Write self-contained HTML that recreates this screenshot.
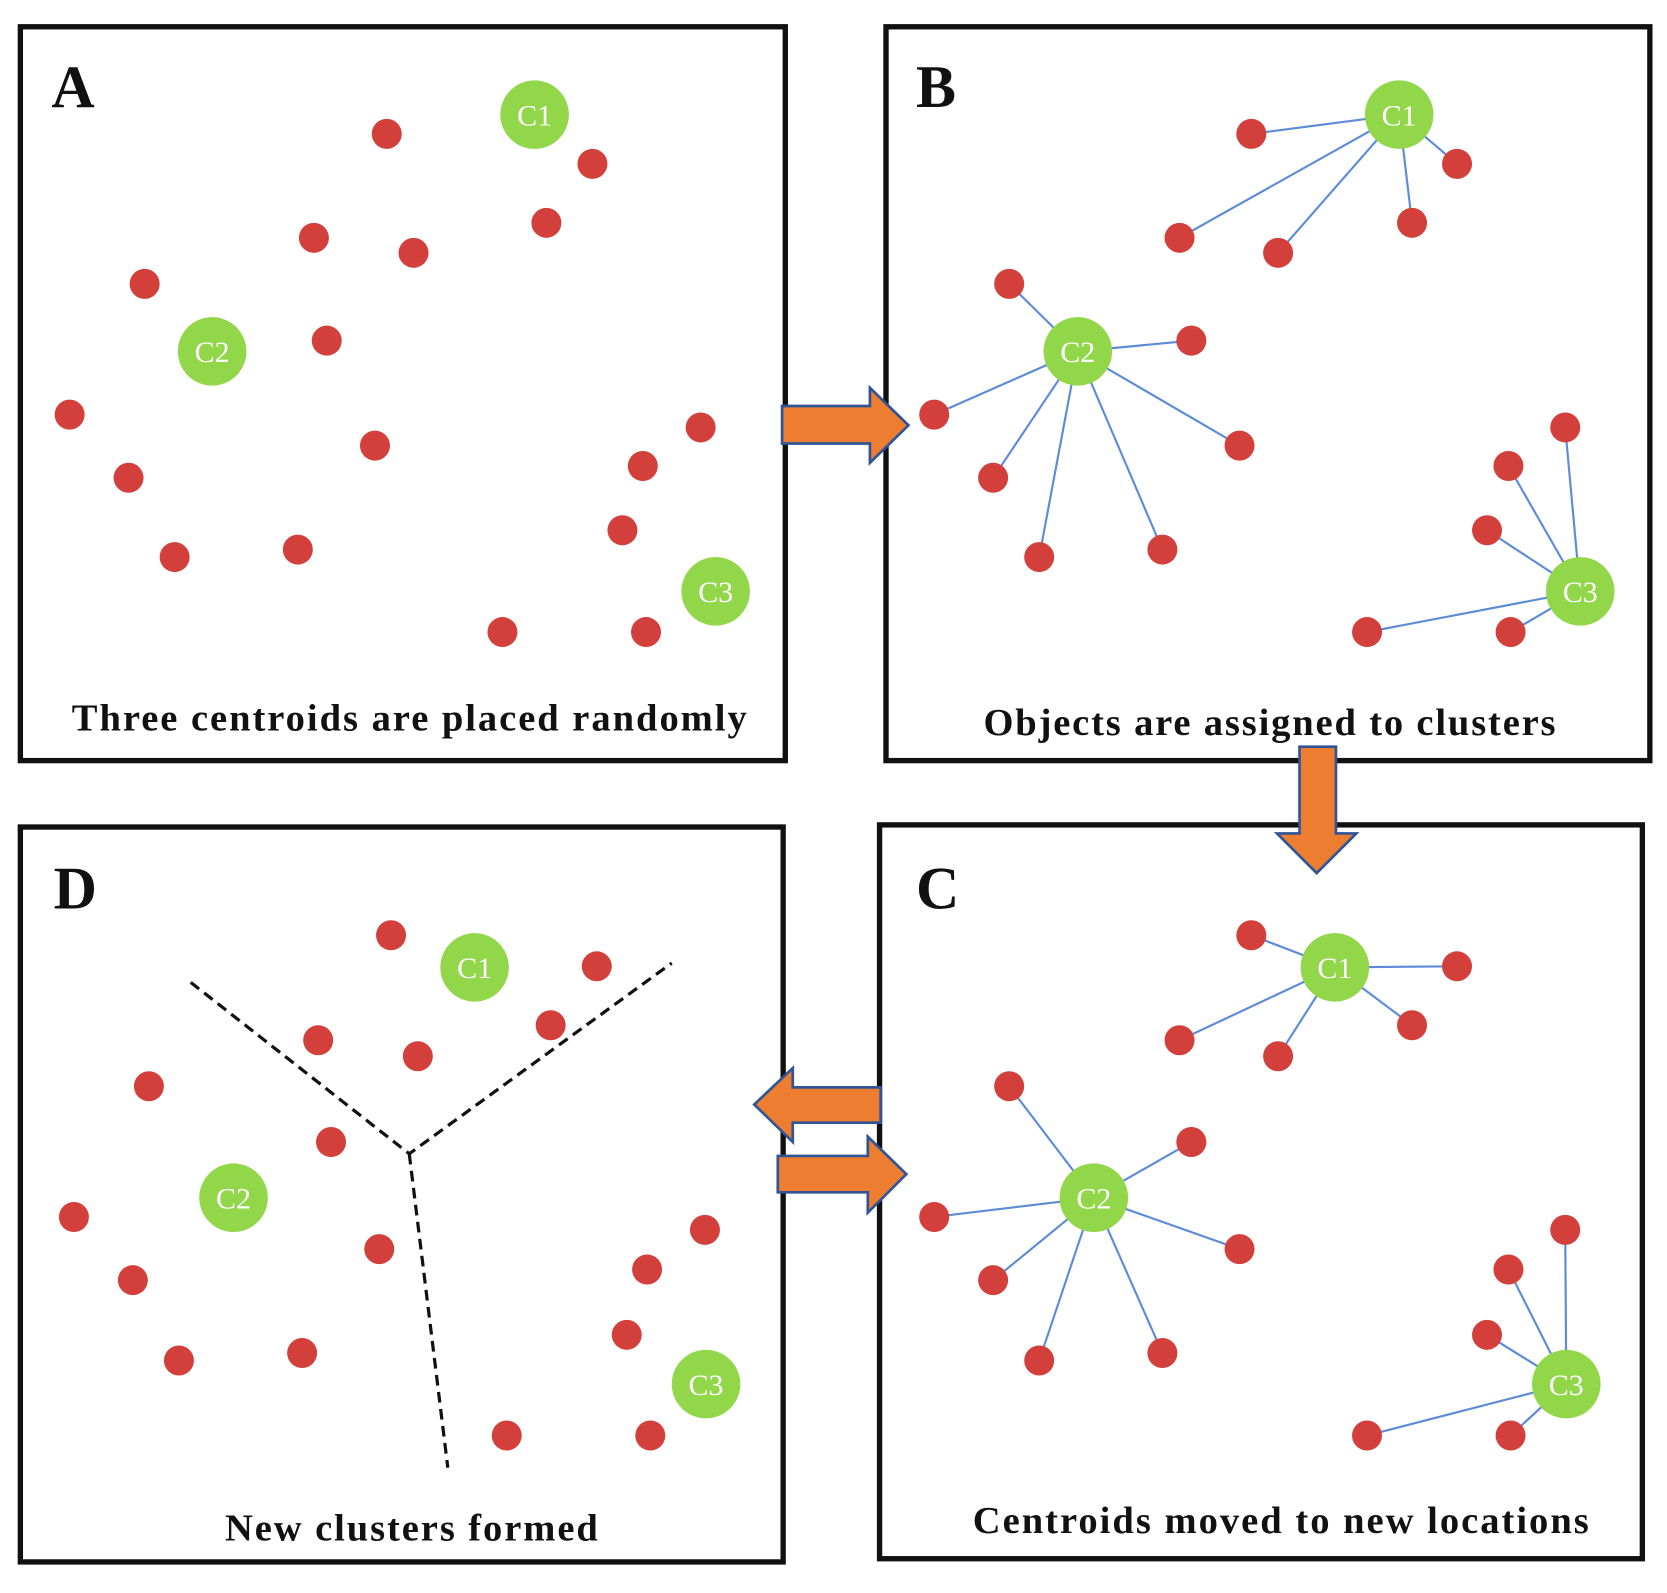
<!DOCTYPE html>
<html><head><meta charset="utf-8"><style>
html,body{margin:0;padding:0;background:#fff;}
svg{display:block;}
text{font-family:"Liberation Serif",serif;}
</style></head><body>
<svg width="1667" height="1593" viewBox="0 0 1556 1487" preserveAspectRatio="none" xmlns="http://www.w3.org/2000/svg">
<g fill="none" stroke="#111" stroke-width="5">
<rect x="19" y="25" width="714" height="685"/>
<rect x="827" y="25" width="713" height="685"/>
<rect x="19" y="772" width="712" height="686"/>
<rect x="821" y="770" width="712" height="685"/>
</g>
<g font-weight="bold" font-size="56" fill="#111">
<text x="48" y="100">A</text><text x="855" y="100">B</text>
<text x="50" y="848">D</text><text x="855" y="848">C</text>
</g>
<g font-weight="bold" font-size="36" fill="#111" lengthAdjust="spacing">
<text x="67" y="682" textLength="630">Three centroids are placed randomly</text>
<text x="918" y="686" textLength="534">Objects are assigned to clusters</text>
<text x="210" y="1438" textLength="348">New clusters formed</text>
<text x="908" y="1431" textLength="575">Centroids moved to new locations</text>
</g>
<g stroke="#5b8bd9" stroke-width="2">
<line x1="1168" y1="125" x2="1306" y2="107"/><line x1="1360" y1="153" x2="1306" y2="107"/><line x1="1318" y1="208" x2="1306" y2="107"/><line x1="1101" y1="222" x2="1306" y2="107"/><line x1="1193" y1="236" x2="1306" y2="107"/>
<line x1="942" y1="265" x2="1006" y2="328"/><line x1="1112" y1="318" x2="1006" y2="328"/><line x1="872" y1="387" x2="1006" y2="328"/><line x1="1157" y1="416" x2="1006" y2="328"/><line x1="927" y1="446" x2="1006" y2="328"/><line x1="970" y1="520" x2="1006" y2="328"/><line x1="1085" y1="513" x2="1006" y2="328"/>
<line x1="1276" y1="590" x2="1475" y2="552"/><line x1="1410" y1="590" x2="1475" y2="552"/><line x1="1388" y1="495" x2="1475" y2="552"/><line x1="1408" y1="435" x2="1475" y2="552"/><line x1="1461" y1="399" x2="1475" y2="552"/>
<line x1="1168" y1="873" x2="1246" y2="903"/><line x1="1360" y1="902" x2="1246" y2="903"/><line x1="1318" y1="957" x2="1246" y2="903"/><line x1="1101" y1="971" x2="1246" y2="903"/><line x1="1193" y1="986" x2="1246" y2="903"/>
<line x1="942" y1="1014" x2="1021" y2="1118"/><line x1="1112" y1="1066" x2="1021" y2="1118"/><line x1="872" y1="1136" x2="1021" y2="1118"/><line x1="1157" y1="1166" x2="1021" y2="1118"/><line x1="927" y1="1195" x2="1021" y2="1118"/><line x1="970" y1="1270" x2="1021" y2="1118"/><line x1="1085" y1="1263" x2="1021" y2="1118"/>
<line x1="1276" y1="1340" x2="1462" y2="1292"/><line x1="1410" y1="1340" x2="1462" y2="1292"/><line x1="1388" y1="1246" x2="1462" y2="1292"/><line x1="1408" y1="1185" x2="1462" y2="1292"/><line x1="1461" y1="1148" x2="1462" y2="1292"/>
</g>
<g stroke="#111" stroke-width="3" stroke-dasharray="10,6" fill="none">
<polyline points="178,917 382,1077 627,899"/><line x1="382" y1="1077" x2="418" y2="1370"/>
</g>
<g fill="#d33f3a">
<circle cx="361" cy="125" r="14"/><circle cx="553" cy="153" r="14"/><circle cx="510" cy="208" r="14"/><circle cx="293" cy="222" r="14"/><circle cx="386" cy="236" r="14"/><circle cx="135" cy="265" r="14"/><circle cx="305" cy="318" r="14"/><circle cx="65" cy="387" r="14"/><circle cx="350" cy="416" r="14"/><circle cx="120" cy="446" r="14"/><circle cx="163" cy="520" r="14"/><circle cx="278" cy="513" r="14"/><circle cx="469" cy="590" r="14"/><circle cx="603" cy="590" r="14"/><circle cx="581" cy="495" r="14"/><circle cx="600" cy="435" r="14"/><circle cx="654" cy="399" r="14"/>
<circle cx="1168" cy="125" r="14"/><circle cx="1360" cy="153" r="14"/><circle cx="1318" cy="208" r="14"/><circle cx="1101" cy="222" r="14"/><circle cx="1193" cy="236" r="14"/><circle cx="942" cy="265" r="14"/><circle cx="1112" cy="318" r="14"/><circle cx="872" cy="387" r="14"/><circle cx="1157" cy="416" r="14"/><circle cx="927" cy="446" r="14"/><circle cx="970" cy="520" r="14"/><circle cx="1085" cy="513" r="14"/><circle cx="1276" cy="590" r="14"/><circle cx="1410" cy="590" r="14"/><circle cx="1388" cy="495" r="14"/><circle cx="1408" cy="435" r="14"/><circle cx="1461" cy="399" r="14"/>
<circle cx="1168" cy="873" r="14"/><circle cx="1360" cy="902" r="14"/><circle cx="1318" cy="957" r="14"/><circle cx="1101" cy="971" r="14"/><circle cx="1193" cy="986" r="14"/><circle cx="942" cy="1014" r="14"/><circle cx="1112" cy="1066" r="14"/><circle cx="872" cy="1136" r="14"/><circle cx="1157" cy="1166" r="14"/><circle cx="927" cy="1195" r="14"/><circle cx="970" cy="1270" r="14"/><circle cx="1085" cy="1263" r="14"/><circle cx="1276" cy="1340" r="14"/><circle cx="1410" cy="1340" r="14"/><circle cx="1388" cy="1246" r="14"/><circle cx="1408" cy="1185" r="14"/><circle cx="1461" cy="1148" r="14"/>
<circle cx="365" cy="873" r="14"/><circle cx="557" cy="902" r="14"/><circle cx="514" cy="957" r="14"/><circle cx="297" cy="971" r="14"/><circle cx="390" cy="986" r="14"/><circle cx="139" cy="1014" r="14"/><circle cx="309" cy="1066" r="14"/><circle cx="69" cy="1136" r="14"/><circle cx="354" cy="1166" r="14"/><circle cx="124" cy="1195" r="14"/><circle cx="167" cy="1270" r="14"/><circle cx="282" cy="1263" r="14"/><circle cx="473" cy="1340" r="14"/><circle cx="607" cy="1340" r="14"/><circle cx="585" cy="1246" r="14"/><circle cx="604" cy="1185" r="14"/><circle cx="658" cy="1148" r="14"/>
</g>
<g fill="#92d64a">
<circle cx="499" cy="107" r="32"/><circle cx="198" cy="328" r="32"/><circle cx="668" cy="552" r="32"/>
<circle cx="1306" cy="107" r="32"/><circle cx="1006" cy="328" r="32"/><circle cx="1475" cy="552" r="32"/>
<circle cx="1246" cy="903" r="32"/><circle cx="1021" cy="1118" r="32"/><circle cx="1462" cy="1292" r="32"/>
<circle cx="443" cy="903" r="32"/><circle cx="218" cy="1118" r="32"/><circle cx="659" cy="1292" r="32"/>
</g>
<g fill="#fff" font-size="28" text-anchor="middle">
<text x="499" y="117">C1</text><text x="198" y="338">C2</text><text x="668" y="562">C3</text>
<text x="1306" y="117">C1</text><text x="1006" y="338">C2</text><text x="1475" y="562">C3</text>
<text x="1246" y="913">C1</text><text x="1021" y="1128">C2</text><text x="1462" y="1302">C3</text>
<text x="443" y="913">C1</text><text x="218" y="1128">C2</text><text x="659" y="1302">C3</text>
</g>
<g fill="#ed7d31" stroke="#2f5597" stroke-width="2.5">
<polygon points="730,379 812,379 812,362 848,397 812,432 812,414 730,414"/>
<polygon points="1213,697 1247,697 1247,778 1266,778 1229,815 1192,778 1213,778"/>
<polygon points="822,1015 740,1015 740,997 704,1031 740,1066 740,1048 822,1048"/>
<polygon points="726,1079 810,1079 810,1061 846,1096 810,1132 810,1113 726,1113"/>
</g>
</svg>
</body></html>
